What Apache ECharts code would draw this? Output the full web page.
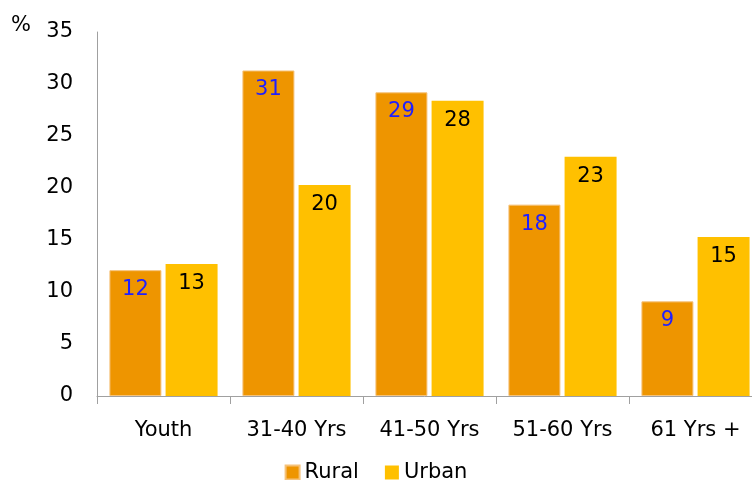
<!DOCTYPE html>
<html>
<head>
<meta charset="utf-8">
<script src="https://cdn.jsdelivr.net/npm/echarts@6/dist/echarts.min.js"></script>
<style>
  html, body { margin: 0; padding: 0; background: #fff; }
  #chart { width: 752px; height: 480px; }
</style>
</head>
<body>
<div id="chart"></div>
<script>
// Age groups and their share (%) of rural and urban respondents
const categories = ['Youth', '31-40 Yrs', '41-50 Yrs', '51-60 Yrs', '61 Yrs +'];
const rural = [12.1, 31.3, 29.2, 18.4, 9.1];
const urban = [12.7, 20.3, 28.4, 23.0, 15.3];
const yTicks = { min: 0, max: 35, interval: 5 };

const FONT = '"DejaVu Sans", sans-serif';
const FS = 21;

const chart = echarts.init(document.getElementById('chart'), null, { renderer: 'canvas' });

const labelBase = {
  show: true,
  position: 'insideTop',
  distance: 9,
  fontSize: FS,
  fontFamily: FONT,
  formatter: p => Math.round(p.value)
};

chart.setOption({
  animation: false,
  backgroundColor: '#ffffff',
  textStyle: { fontFamily: FONT },
  grid: {
    left: 97, top: 32, width: 665, height: 364,
    containLabel: false,
    outerBoundsMode: 'none'
  },
  graphic: [{
    type: 'text',
    left: 11,
    top: 15,
    style: { text: '%', fontSize: FS, fontFamily: FONT, fill: '#000' }
  }],
  legend: {
    top: 457,
    left: 'center',
    itemWidth: 14,
    itemHeight: 14,
    itemGap: 26,
    icon: 'rect',
    textStyle: { fontSize: FS, fontFamily: FONT, color: '#000' },
    data: ['Rural', 'Urban']
  },
  xAxis: {
    type: 'category',
    data: categories,
    axisLine: { lineStyle: { color: '#a0a0a0', width: 1 } },
    axisTick: { show: true, length: 8, lineStyle: { color: '#a0a0a0' } },
    axisLabel: { fontSize: FS, fontFamily: FONT, color: '#000', margin: 24, interval: 0 }
  },
  yAxis: {
    type: 'value',
    min: yTicks.min,
    max: yTicks.max,
    interval: yTicks.interval,
    axisLine: { show: true, lineStyle: { color: '#a0a0a0', width: 1 } },
    axisTick: { show: false },
    splitLine: { show: false },
    axisLabel: { fontSize: FS, fontFamily: FONT, color: '#000', margin: 24 }
  },
  series: [
    {
      name: 'Rural',
      type: 'bar',
      data: rural,
      barWidth: 52,
      barGap: '8%',
      itemStyle: { color: '#EE9500', borderColor: '#F5C27A', borderWidth: 1 },
      label: Object.assign({}, labelBase, { color: '#1F1FFF' })
    },
    {
      name: 'Urban',
      type: 'bar',
      data: urban,
      barWidth: 52,
      itemStyle: { color: '#FFC000' },
      label: Object.assign({}, labelBase, { color: '#000' })
    }
  ]
});
</script>
</body>
</html>
